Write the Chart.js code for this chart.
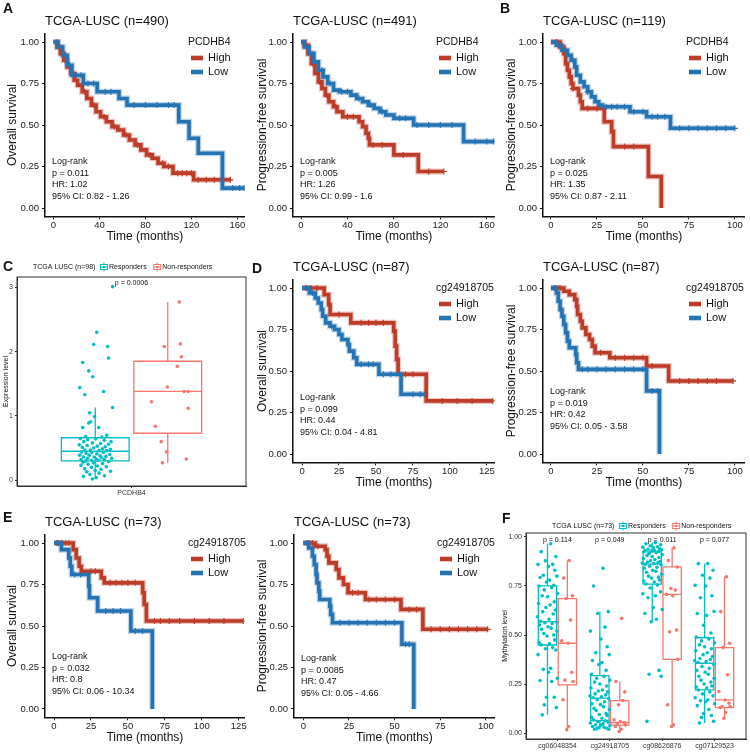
<!DOCTYPE html>
<html>
<head>
<meta charset="utf-8">
<script src="https://cdn.jsdelivr.net/npm/chart.js@4.4.1/dist/chart.umd.min.js"></script>
<style>
  body { margin: 0; background: #fff; }
  #wrap { position: relative; width: 750px; height: 753px; overflow: hidden; background: #fff; }
</style>
</head>
<body>
<div id="wrap"></div>
<script>
// ---------- shared ticks / labels ----------
const survTicks = [0, 0.25, 0.5, 0.75, 1];
const ticks160 = [0, 40, 80, 120, 160];
const ticks100 = [0, 25, 50, 75, 100];
const ticks125 = [0, 25, 50, 75, 100, 125];
const groupNames = ['High', 'Low'];

// ---------- A: PCDHB4 OS (n=490) ----------
const a1HighT = [0, 3, 6, 9, 12, 15, 18, 21, 25, 29, 33, 37, 41, 46, 51, 56, 61, 66, 71, 76, 81, 86, 91, 96, 104, 122];
const a1HighS = [1, 0.97, 0.93, 0.89, 0.85, 0.81, 0.77, 0.74, 0.70, 0.66, 0.62, 0.58, 0.55, 0.52, 0.49, 0.47, 0.44, 0.41, 0.38, 0.35, 0.32, 0.30, 0.27, 0.25, 0.21, 0.17];
const a1HighCens = [5, 10, 17, 27, 35, 44, 53, 63, 73, 84, 95, 100, 108, 112, 116, 120, 126, 133, 140, 147, 154];
const a1LowT = [0, 4, 8, 12, 16, 26, 38, 57, 64, 109, 118, 126, 147];
const a1LowS = [1, 0.97, 0.92, 0.86, 0.80, 0.75, 0.70, 0.66, 0.62, 0.52, 0.42, 0.33, 0.12];
const a1LowCens = [3, 9, 14, 20, 24, 30, 35, 45, 50, 70, 80, 90, 100, 105, 156, 162, 166];

// ---------- A: PCDHB4 PFS (n=491) ----------
const a2HighT = [0, 3, 6, 9, 12, 15, 18, 21, 24, 28, 31, 36, 50, 53, 56, 58, 59, 80, 101];
const a2HighS = [1, 0.98, 0.93, 0.87, 0.81, 0.76, 0.72, 0.68, 0.64, 0.61, 0.58, 0.55, 0.52, 0.49, 0.45, 0.42, 0.38, 0.32, 0.22];
const a2HighCens = [4, 10, 16, 22, 30, 40, 45, 62, 70, 88, 110, 123];
const a2LowT = [0, 3, 7, 11, 15, 19, 23, 28, 33, 43, 48, 53, 58, 63, 68, 73, 80, 97, 140];
const a2LowS = [1, 0.97, 0.93, 0.88, 0.83, 0.79, 0.75, 0.71, 0.70, 0.68, 0.66, 0.64, 0.62, 0.60, 0.58, 0.56, 0.54, 0.50, 0.40];
const a2LowCens = [5, 12, 18, 25, 35, 40, 50, 60, 70, 85, 90, 100, 110, 120, 130, 150, 160, 166];

// ---------- B: PCDHB4 PFS (n=119) ----------
const bHighT = [0, 5, 7, 8, 9, 10, 11, 12, 15, 16, 17, 29, 33, 34, 53, 60];
const bHighS = [1, 0.97, 0.93, 0.87, 0.83, 0.79, 0.75, 0.72, 0.68, 0.64, 0.60, 0.52, 0.46, 0.37, 0.19, 0];
const bHighCens = [3, 12, 20, 25, 40, 45];
const bLowT = [0, 3, 6, 9, 11, 13, 14, 16, 18, 20, 22, 24, 26, 28, 43, 52, 65];
const bLowS = [1, 0.98, 0.95, 0.92, 0.89, 0.85, 0.80, 0.76, 0.73, 0.70, 0.67, 0.64, 0.62, 0.61, 0.58, 0.55, 0.48];
const bLowCens = [4, 8, 12, 20, 30, 33, 36, 40, 45, 50, 55, 58, 62, 70, 75, 80, 85, 90, 95, 100];

// ---------- D: cg24918705 (n=87) ----------
const d1HighT = [0, 15, 18, 19, 33, 62, 63, 64, 65, 84];
const d1HighS = [1, 0.96, 0.90, 0.84, 0.79, 0.74, 0.65, 0.57, 0.48, 0.32];
const d1HighCens = [3, 6, 10, 25, 40, 45, 50, 55, 70, 75, 95, 105, 115, 129];
const d1LowT = [0, 5, 9, 11, 13, 14, 16, 19, 22, 25, 27, 31, 32, 35, 37, 52, 67];
const d1LowS = [1, 0.97, 0.94, 0.91, 0.87, 0.83, 0.79, 0.77, 0.75, 0.72, 0.69, 0.66, 0.62, 0.58, 0.54, 0.48, 0.36];
const d1LowCens = [3, 7, 20, 40, 45, 48, 55, 60, 75, 80, 83];
const d2HighT = [0, 7, 10, 13, 14, 14.5, 16, 17, 19, 21, 22.5, 24, 32, 52, 64];
const d2HighS = [1, 0.98, 0.96, 0.93, 0.89, 0.84, 0.80, 0.76, 0.72, 0.69, 0.65, 0.61, 0.58, 0.53, 0.44];
const d2HighCens = [3, 5, 27, 35, 40, 45, 50, 55, 70, 75, 80, 85, 90, 99];
const d2LowT = [0, 3, 4, 5, 6, 7, 8, 9, 10, 13.5, 14, 15, 52, 59];
const d2LowS = [1, 0.97, 0.92, 0.87, 0.83, 0.78, 0.73, 0.68, 0.64, 0.60, 0.55, 0.51, 0.38, 0];
const d2LowCens = [2, 17, 20, 25, 30, 35, 40, 45, 50, 55, 58];

// ---------- E: cg24918705 (n=73) ----------
const e1HighT = [0, 13, 15, 17, 18.5, 32, 34, 60, 61, 62.5];
const e1HighS = [1, 0.96, 0.91, 0.86, 0.83, 0.79, 0.76, 0.70, 0.63, 0.53];
const e1HighCens = [2, 5, 8, 10, 25, 28, 38, 42, 46, 50, 55, 68, 72, 78, 85, 95, 105, 115, 128];
const e1LowT = [0, 5, 10, 11, 12, 23.5, 24, 29.5, 52, 66.5];
const e1LowS = [1, 0.96, 0.91, 0.86, 0.81, 0.74, 0.67, 0.59, 0.47, 0];
const e1LowCens = [3, 14, 18, 35, 40, 45, 55, 60];
const e2HighT = [0, 6.5, 12, 13, 14, 18, 19.5, 22, 24.5, 34, 53.5, 65.5];
const e2HighS = [1, 0.98, 0.96, 0.92, 0.88, 0.84, 0.79, 0.75, 0.70, 0.66, 0.60, 0.48];
const e2HighCens = [3, 5, 8, 27, 30, 36, 40, 45, 50, 58, 62, 70, 75, 80, 85, 90, 95, 101];
const e2LowT = [0, 3, 5, 6, 7, 7.5, 8.5, 9, 14.5, 15, 16, 54, 60.5];
const e2LowS = [1, 0.97, 0.92, 0.87, 0.81, 0.76, 0.71, 0.66, 0.62, 0.57, 0.52, 0.39, 0];
const e2LowCens = [2, 20, 25, 30, 35, 40, 45, 50, 56, 58];

// ---------- C: PCDHB4 expression, responders vs non-responders (n=98) ----------
const cCategory = ['PCDHB4'];
const cRespX = [0.901, 0.818, 0.802, 0.875, 0.880, 0.744, 0.776, 0.797, 0.729, 0.755, 0.854, 0.901, 0.781, 0.807, 0.786, 0.776, 0.744, 0.828, 0.870, 0.760, 0.845,
  0.732, 0.771, 0.812, 0.858, 0.893, 0.750, 0.795, 0.838, 0.880, 0.726, 0.768, 0.820, 0.862, 0.742, 0.802, 0.848, 0.889, 0.756, 0.785, 0.830, 0.870,
  0.738, 0.792, 0.852, 0.762, 0.818, 0.886, 0.728, 0.778, 0.835, 0.866, 0.748, 0.805, 0.842, 0.896, 0.770, 0.815, 0.735, 0.858, 0.790, 0.826, 0.760,
  0.880, 0.745, 0.800, 0.848, 0.772, 0.735, 0.822, 0.868, 0.790, 0.755, 0.840, 0.810, 0.890, 0.765, 0.830, 0.782, 0.858, 0.748, 0.815, 0.795];
const cRespY = [3.01, 2.30, 2.11, 2.08, 1.90, 1.83, 1.70, 1.61, 1.44, 1.33, 1.38, 1.13, 1.05, 0.99, 0.91, 0.89, 0.82, 0.82, 0.70, 0.68, 0.67,
  0.65, 0.63, 0.64, 0.62, 0.60, 0.60, 0.58, 0.57, 0.56, 0.55, 0.54, 0.53, 0.52, 0.51, 0.50, 0.49, 0.48, 0.47, 0.47, 0.46, 0.46,
  0.44, 0.43, 0.43, 0.42, 0.41, 0.40, 0.39, 0.39, 0.38, 0.37, 0.36, 0.36, 0.35, 0.34, 0.34, 0.33, 0.32, 0.32, 0.31, 0.31, 0.30,
  0.29, 0.28, 0.27, 0.26, 0.25, 0.23, 0.22, 0.21, 0.20, 0.18, 0.17, 0.15, 0.14, 0.13, 0.11, 0.09, 0.07, 0.06, 0.04, 0.02];
const cNonX = [1.250, 1.256, 1.172, 1.261, 1.240, 1.188, 1.276, 1.297, 1.104, 1.297, 1.125, 1.156, 1.183, 1.287, 1.162];
const cNonY = [2.77, 2.12, 2.08, 1.92, 1.77, 1.45, 1.38, 1.38, 1.22, 1.12, 0.84, 0.60, 0.44, 0.33, 0.27];
// [min, q1, median, q3, max]
const cRespBox = [[0.02, 0.30, 0.45, 0.66, 1.13]];
const cNonBox = [[0.27, 0.73, 1.38, 1.85, 2.77]];
const cPvals = ['p = 0.0006'];

// ---------- F: methylation, responders vs non-responders (n=73) ----------
const fProbes = ['cg06048354', 'cg24918705', 'cg08626876', 'cg07129523'];
const fResp06048354 = [0.965, 0.925, 0.90, 0.878, 0.86, 0.86, 0.85, 0.83, 0.805, 0.80, 0.793, 0.78, 0.77, 0.754, 0.75,
  0.742, 0.73, 0.712, 0.70, 0.695, 0.669, 0.661, 0.653, 0.64, 0.627, 0.619, 0.607, 0.593, 0.58, 0.57,
  0.566, 0.563, 0.559, 0.551, 0.542, 0.535, 0.529, 0.52, 0.508, 0.50, 0.495, 0.475, 0.461, 0.455, 0.45,
  0.436, 0.43, 0.424, 0.40, 0.33, 0.325, 0.31, 0.28, 0.268, 0.263, 0.183, 0.183, 0.144, 0.13, 0.093];
const fResp24918705 = [0.84, 0.75, 0.619, 0.61, 0.54, 0.52, 0.48, 0.44, 0.41, 0.40, 0.37, 0.36, 0.35, 0.32, 0.30,
  0.29, 0.28, 0.27, 0.26, 0.25, 0.24, 0.23, 0.22, 0.215, 0.21, 0.20, 0.195, 0.19, 0.185, 0.18,
  0.175, 0.17, 0.16, 0.15, 0.145, 0.135, 0.127, 0.12, 0.115, 0.10, 0.095, 0.09, 0.08, 0.076, 0.068,
  0.063, 0.059, 0.055, 0.051, 0.047, 0.042, 0.04, 0.037, 0.034, 0.03, 0.028, 0.025, 0.022, 0.02, 0.02];
const fResp08626876 = [0.971, 0.965, 0.96, 0.955, 0.95, 0.948, 0.945, 0.94, 0.937, 0.935, 0.932, 0.93, 0.928, 0.926, 0.924,
  0.92, 0.915, 0.91, 0.905, 0.90, 0.895, 0.89, 0.885, 0.88, 0.875, 0.872, 0.87, 0.867, 0.864, 0.861,
  0.858, 0.85, 0.845, 0.84, 0.83, 0.825, 0.82, 0.81, 0.80, 0.795, 0.79, 0.78, 0.775, 0.77, 0.76,
  0.755, 0.74, 0.72, 0.71, 0.70, 0.69, 0.64, 0.63, 0.61, 0.58, 0.568, 0.32, 0.30, 0.29, 0.06];
const fResp07129523 = [0.864, 0.864, 0.83, 0.805, 0.79, 0.754, 0.75, 0.70, 0.69, 0.62, 0.61, 0.60, 0.55, 0.51, 0.49,
  0.48, 0.47, 0.46, 0.45, 0.44, 0.43, 0.42, 0.41, 0.40, 0.39, 0.38, 0.375, 0.37, 0.365, 0.36,
  0.35, 0.34, 0.33, 0.32, 0.31, 0.30, 0.29, 0.28, 0.27, 0.26, 0.25, 0.24, 0.235, 0.23, 0.22,
  0.21, 0.20, 0.19, 0.18, 0.17, 0.165, 0.16, 0.15, 0.14, 0.12, 0.10, 0.09, 0.08, 0.06, 0.051];
const fNon06048354 = [0.88, 0.79, 0.70, 0.686, 0.576, 0.471, 0.458, 0.31, 0.27, 0.263, 0.17, 0.034, 0.017];
const fNon24918705 = [0.585, 0.263, 0.21, 0.144, 0.166, 0.068, 0.059, 0.054, 0.047, 0.041, 0.034, 0.02, 0.008];
const fNon08626876 = [0.944, 0.88, 0.847, 0.737, 0.729, 0.707, 0.70, 0.525, 0.517, 0.376, 0.144, 0.042, 0.034];
const fNon07129523 = [0.797, 0.619, 0.458, 0.436, 0.297, 0.212, 0.169, 0.153, 0.136, 0.136, 0.13, 0.105, 0.076];
const fRespBox = [[0.093, 0.449, 0.568, 0.75, 0.965], [0.02, 0.064, 0.178, 0.293, 0.619], [0.568, 0.759, 0.861, 0.924, 0.971], [0.051, 0.22, 0.356, 0.486, 0.864]];
const fNonBox = [[0.017, 0.246, 0.458, 0.686, 0.88], [0.008, 0.041, 0.054, 0.166, 0.263], [0.034, 0.376, 0.707, 0.847, 0.944], [0.076, 0.13, 0.169, 0.436, 0.797]];
const fPvals = ['p = 0.114', 'p = 0.049', 'p = 0.011', 'p = 0.077'];
// horizontal jitter of the points (fraction of jitter half-width)
const fJitter = [0.3, -0.6, 0.8, -0.2, 0.5, -0.9, 0.1, 0.7, -0.4, 0.9, -0.7, 0.2, -0.1, 0.6, -0.8, 0.4, -0.3, 0.95, -0.5, 0.0,
  0.65, -0.85, 0.25, -0.15, 0.75, -0.45, 0.55, -0.95, 0.15, -0.65, 0.85, -0.25, 0.45, -0.75, 0.05, 0.35, -0.55, 0.9, -0.35, 0.6,
  -0.05, 0.7, -0.8, 0.2, -0.6, 0.5, -0.2, 0.8, -0.9, 0.3, -0.4, 0.1, 0.95, -0.7, 0.4, -0.1, 0.65, -0.3, 0.85, -0.5];

// ---------- drawing ----------
const FONT = "'Liberation Sans', Arial, Helvetica, sans-serif";
const RED = '#BC3C29', BLUE = '#2673B3';
const RED_HALO = 'rgba(188,60,41,0.30)', BLUE_HALO = 'rgba(38,115,179,0.30)';
const TEAL = '#00BFC4', SALMON = '#F8766D';
Chart.defaults.font.family = FONT;
Chart.defaults.animation = false;
Chart.defaults.plugins.legend.display = false;
Chart.defaults.plugins.tooltip.enabled = false;

function addCanvas(l, t, w, h) {
  const c = document.createElement('canvas');
  c.width = w; c.height = h;
  c.style.cssText = `position:absolute;left:${l}px;top:${t}px;width:${w}px;height:${h}px`;
  document.getElementById('wrap').appendChild(c);
  return c;
}

function stepPoints(t, s, end) {
  const pts = [{x: t[0], y: s[0]}];
  for (let i = 1; i < t.length; i++) {
    pts.push({x: t[i], y: s[i - 1]});
    pts.push({x: t[i], y: s[i]});
  }
  pts.push({x: end, y: s[s.length - 1]});
  return pts;
}

function survAt(t, s, x) {
  let v = s[0];
  for (let i = 0; i < t.length; i++) if (t[i] <= x) v = s[i];
  return v;
}

function axis(o) {
  return {
    type: 'linear', min: o.min, max: o.max,
    afterBuildTicks: sc => { sc.ticks = o.ticks.map(v => ({value: v})); },
    afterFit: sc => { if (o.w != null) sc.width = o.w; if (o.h != null) sc.height = o.h; },
    ticks: {font: {size: o.fs}, color: o.tc, padding: o.pad, autoSkip: false, maxRotation: 0, callback: o.fmt},
    grid: {display: true, drawOnChartArea: false, drawTicks: true, tickLength: o.tl, color: o.gc, lineWidth: 1},
    border: {display: true, color: o.bc, width: o.bw},
    title: {display: !!o.title, text: o.title, font: {size: o.ts}, color: '#111', padding: 0}
  };
}

function km(p) {
  const [bl, bt, bw, bh] = p.box;
  const [pl, pt, pr, pb] = p.plot;
  const cv = addCanvas(bl, bt, bw, bh);
  const datasets = [];
  p.curves.slice().reverse().forEach(c => {
    datasets.push({data: stepPoints(c.t, c.s, c.end), borderColor: c.color, borderWidth: 3.6,
      pointRadius: 0, tension: 0, borderCapStyle: 'butt', borderJoinStyle: 'miter'});
  });
  p.curves.forEach(c => {
    datasets.push({data: c.cens.map(x => ({x: x, y: survAt(c.t, c.s, x)})), showLine: false,
      pointStyle: 'cross', pointRadius: 3, pointBorderWidth: 1.2, borderColor: c.color, backgroundColor: c.color});
  });
  p.curves.slice().reverse().forEach(c => {
    datasets.push({data: stepPoints(c.t, c.s, c.end), borderColor: c.halo, borderWidth: 6,
      pointRadius: 0, tension: 0, borderCapStyle: 'butt', borderJoinStyle: 'miter'});
  });
  const deco = {
    id: 'kmDeco',
    afterDraw(chart) {
      const ctx = chart.ctx, ca = chart.chartArea, ys = chart.scales.y;
      ctx.save();
      ctx.fillStyle = '#111';
      ctx.textBaseline = 'middle';
      ctx.textAlign = 'left';
      ctx.font = `13px ${FONT}`;
      ctx.fillText(p.title, ca.left, ca.top - 12);
      if (p.letter) {
        ctx.font = `bold 14px ${FONT}`;
        ctx.fillText(p.letter, p.letterAt[0] - bl, p.letterAt[1] - bt);
      }
      const lx = ca.left + 143, ly = ys.getPixelForValue(1);
      ctx.font = `10.5px ${FONT}`;
      ctx.fillText(p.legendTitle, lx, ly);
      ctx.font = `11px ${FONT}`;
      p.curves.forEach((c, i) => {
        const y = ly + 16 + i * 14;
        ctx.strokeStyle = c.halo; ctx.lineWidth = 6;
        ctx.beginPath(); ctx.moveTo(lx + 3, y); ctx.lineTo(lx + 15, y); ctx.stroke();
        ctx.strokeStyle = c.color; ctx.lineWidth = 4;
        ctx.beginPath(); ctx.moveTo(lx + 3, y); ctx.lineTo(lx + 15, y); ctx.stroke();
        ctx.fillText(c.label, lx + 20, y);
      });
      ctx.font = `9px ${FONT}`;
      const y0 = ys.getPixelForValue(0) - p.statLift;
      p.stats.forEach((s, i) => ctx.fillText(s, ca.left + 7, y0 + i * 11.5));
      ctx.restore();
    }
  };
  new Chart(cv, {
    type: 'line',
    data: {datasets},
    options: {
      responsive: false,
      layout: {padding: {left: p.yLeft - bl, top: pt - bt, right: bl + bw - pr, bottom: 0}},
      scales: {
        x: axis({min: p.xMin, max: p.xMax, ticks: p.xTicks, h: bt + bh - pb, fs: 9.5, tc: '#222', pad: 0, tl: 3,
          gc: '#111', bc: '#111', bw: 1.5, title: 'Time (months)', ts: 12}),
        y: axis({min: -0.05, max: 1.05, ticks: survTicks, w: pl - p.yLeft, fs: 9.5, tc: '#222', pad: 3, tl: 3,
          gc: '#111', bc: '#111', bw: 1.5, title: p.yTitle, ts: 12, fmt: v => v.toFixed(2)})
      }
    },
    plugins: [deco]
  });
}

function curve(t, s, cens, color, halo, label) {
  return {t, s, cens, color, halo, label, end: Math.max(t[t.length - 1], cens.length ? cens[cens.length - 1] : 0)};
}

// row 1
km({box: [0, 0, 250, 244], plot: [45, 33.7, 245, 216.3], yLeft: 5.5, xMin: -7.4, xMax: 166.5, xTicks: ticks160,
  title: 'TCGA-LUSC (n=490)', yTitle: 'Overall survival', legendTitle: 'PCDHB4', letter: 'A', letterAt: [3, 9],
  curves: [curve(a1HighT, a1HighS, a1HighCens, RED, RED_HALO, groupNames[0]), curve(a1LowT, a1LowS, a1LowCens, BLUE, BLUE_HALO, groupNames[1])],
  stats: ['Log-rank', 'p = 0.011', 'HR: 1.02', '95% CI: 0.82 - 1.26'], statLift: 46});
km({box: [250, 0, 250, 244], plot: [293, 33.7, 495, 216.3], yLeft: 255.5, xMin: -6.9, xMax: 166.9, xTicks: ticks160,
  title: 'TCGA-LUSC (n=491)', yTitle: 'Progression-free survival', legendTitle: 'PCDHB4',
  curves: [curve(a2HighT, a2HighS, a2HighCens, RED, RED_HALO, groupNames[0]), curve(a2LowT, a2LowS, a2LowCens, BLUE, BLUE_HALO, groupNames[1])],
  stats: ['Log-rank', 'p = 0.005', 'HR: 1.26', '95% CI: 0.99 - 1.6'], statLift: 46});
km({box: [500, 0, 250, 244], plot: [543, 33.7, 746, 216.3], yLeft: 504, xMin: -4.3, xMax: 105.4, xTicks: ticks100,
  title: 'TCGA-LUSC (n=119)', yTitle: 'Progression-free survival', legendTitle: 'PCDHB4', letter: 'B', letterAt: [500, 9],
  curves: [curve(bHighT, bHighS, bHighCens, RED, RED_HALO, groupNames[0]), curve(bLowT, bLowS, bLowCens, BLUE, BLUE_HALO, groupNames[1])],
  stats: ['Log-rank', 'p = 0.025', 'HR: 1.35', '95% CI: 0.87 - 2.11'], statLift: 46});

// row 2
km({box: [250, 255, 250, 235], plot: [293, 279.7, 495, 462.3], yLeft: 255.5, xMin: -6.1, xMax: 130.4, xTicks: ticks125,
  title: 'TCGA-LUSC (n=87)', yTitle: 'Overall survival', legendTitle: 'cg24918705', letter: 'D', letterAt: [252, 269],
  curves: [curve(d1HighT, d1HighS, d1HighCens, RED, RED_HALO, groupNames[0]), curve(d1LowT, d1LowS, d1LowCens, BLUE, BLUE_HALO, groupNames[1])],
  stats: ['Log-rank', 'p = 0.099', 'HR: 0.44', '95% CI: 0.04 - 4.81'], statLift: 56});
km({box: [500, 255, 250, 235], plot: [543, 279.7, 746, 462.3], yLeft: 504, xMin: -4.3, xMax: 105.4, xTicks: ticks100,
  title: 'TCGA-LUSC (n=87)', yTitle: 'Progression-free survival', legendTitle: 'cg24918705',
  curves: [curve(d2HighT, d2HighS, d2HighCens, RED, RED_HALO, groupNames[0]), curve(d2LowT, d2LowS, d2LowCens, BLUE, BLUE_HALO, groupNames[1])],
  stats: ['Log-rank', 'p = 0.019', 'HR: 0.42', '95% CI: 0.05 - 3.58'], statLift: 62});

// row 3
km({box: [0, 500, 250, 245], plot: [45, 534.7, 245, 717.3], yLeft: 5.5, xMin: -6.1, xMax: 129.1, xTicks: ticks125,
  title: 'TCGA-LUSC (n=73)', yTitle: 'Overall survival', legendTitle: 'cg24918705', letter: 'E', letterAt: [3, 518],
  curves: [curve(e1HighT, e1HighS, e1HighCens, RED, RED_HALO, groupNames[0]), curve(e1LowT, e1LowS, e1LowCens, BLUE, BLUE_HALO, groupNames[1])],
  stats: ['Log-rank', 'p = 0.032', 'HR: 0.8', '95% CI: 0.06 - 10.34'], statLift: 52});
km({box: [250, 500, 250, 245], plot: [294, 534.7, 495, 717.3], yLeft: 255.5, xMin: -5.1, xMax: 104.9, xTicks: ticks100,
  title: 'TCGA-LUSC (n=73)', yTitle: 'Progression-free survival', legendTitle: 'cg24918705',
  curves: [curve(e2HighT, e2HighS, e2HighCens, RED, RED_HALO, groupNames[0]), curve(e2LowT, e2LowS, e2LowCens, BLUE, BLUE_HALO, groupNames[1])],
  stats: ['Log-rank', 'p = 0.0085', 'HR: 0.47', '95% CI: 0.05 - 4.66'], statLift: 50});

// ---------- box + jitter panels ----------
function boxPanel(p) {
  const [bl, bt, bw, bh] = p.box;
  const [pl, pt, pr, pb] = p.plot;
  const cv = addCanvas(bl, bt, bw, bh);
  const datasets = p.groups.map(g => ({data: g.points, backgroundColor: g.color, borderColor: g.color,
    pointRadius: 1.8, borderWidth: 0}));
  const deco = {
    id: 'boxDeco',
    beforeDatasetsDraw(chart) {
      const ctx = chart.ctx, xs = chart.scales.x, ys = chart.scales.y;
      ctx.save();
      ctx.lineWidth = 1.3;
      p.groups.forEach(g => {
        ctx.strokeStyle = g.color;
        g.box.forEach((st, i) => {
          const c = i + 1 + g.shift;
          const xc = xs.getPixelForValue(c);
          const xl = xs.getPixelForValue(c - p.boxW / 2), xr = xs.getPixelForValue(c + p.boxW / 2);
          const [mn, q1, md, q3, mx] = st.map(v => ys.getPixelForValue(v));
          ctx.beginPath();
          ctx.moveTo(xc, mn); ctx.lineTo(xc, q1);
          ctx.moveTo(xc, q3); ctx.lineTo(xc, mx);
          ctx.rect(xl, q3, xr - xl, q1 - q3);
          ctx.moveTo(xl, md); ctx.lineTo(xr, md);
          ctx.stroke();
        });
      });
      ctx.restore();
    },
    afterDraw(chart) {
      const ctx = chart.ctx, ca = chart.chartArea, xs = chart.scales.x, ys = chart.scales.y;
      ctx.save();
      ctx.strokeStyle = '#333'; ctx.lineWidth = 1;
      ctx.strokeRect(ca.left, ca.top, ca.right - ca.left, ca.bottom - ca.top);
      ctx.fillStyle = '#111';
      ctx.textBaseline = 'middle';
      ctx.font = `7px ${FONT}`;
      ctx.textAlign = 'center';
      p.pvals.forEach((t, i) => ctx.fillText(t, xs.getPixelForValue(i + 1), ys.getPixelForValue(p.pvalY)));
      // legend, laid out left to right
      ctx.textAlign = 'left';
      const ly = p.legendY - bt;
      let x = p.legendX - bl;
      ctx.fillText(p.legendTitle, x, ly);
      x += ctx.measureText(p.legendTitle).width + 5;
      p.groups.forEach(g => {
        ctx.strokeStyle = g.color; ctx.fillStyle = '#fff'; ctx.lineWidth = 1;
        ctx.beginPath(); ctx.moveTo(x + 3.5, ly - 4.5); ctx.lineTo(x + 3.5, ly + 4.5); ctx.stroke();
        ctx.fillRect(x, ly - 2.5, 7, 5); ctx.strokeRect(x, ly - 2.5, 7, 5);
        ctx.beginPath(); ctx.moveTo(x, ly); ctx.lineTo(x + 7, ly); ctx.stroke();
        ctx.fillStyle = g.color;
        ctx.beginPath(); ctx.arc(x + 3.5, ly, 1.3, 0, Math.PI * 2); ctx.fill();
        ctx.fillStyle = '#111';
        ctx.fillText(g.label, x + 8.5, ly);
        x += 8.5 + ctx.measureText(g.label).width + 7;
      });
      ctx.font = `bold 14px ${FONT}`;
      ctx.fillText(p.letter, p.letterAt[0] - bl, p.letterAt[1] - bt);
      ctx.restore();
    }
  };
  new Chart(cv, {
    type: 'scatter',
    data: {datasets},
    options: {
      responsive: false,
      layout: {padding: {left: p.yLeft - bl, top: pt - bt, right: bl + bw - pr, bottom: 0}},
      scales: {
        x: axis({min: 0.4, max: p.cats.length + 0.6, ticks: p.cats.map((c, i) => i + 1), h: bt + bh - pb, fs: 7, tc: '#333', pad: 1,
          tl: 2, gc: '#333', bc: '#333', bw: 1, fmt: (v, i) => p.cats[i]}),
        y: axis({min: p.yMin, max: p.yMax, ticks: p.yTicks, w: pl - p.yLeft, fs: 7, tc: '#333', pad: 2, tl: 2,
          gc: '#333', bc: '#333', bw: 1, title: p.yTitle, ts: 7, fmt: p.yFmt})
      }
    },
    plugins: [deco]
  });
}

const boxShift = 0.19;
boxPanel({
  box: [0, 255, 250, 245], plot: [17, 277, 247, 486], yLeft: 1.8,
  cats: cCategory, yMin: -0.09, yMax: 3.16, yTicks: [0, 1, 2, 3], yFmt: v => String(v), yTitle: 'Expression level',
  boxW: 0.355, pvals: cPvals, pvalY: 3.07,
  legendTitle: 'TCGA LUSC (n=98)', legendY: 267, legendX: 33,
  letter: 'C', letterAt: [3, 267],
  groups: [
    {label: 'Responders', color: TEAL, shift: -boxShift, box: cRespBox, points: cRespX.map((x, i) => ({x: x, y: cRespY[i]}))},
    {label: 'Non-responders', color: SALMON, shift: boxShift, box: cNonBox, points: cNonX.map((x, i) => ({x: x, y: cNonY[i]}))}
  ]
});

function jitterPoints(lists, shift, half) {
  const pts = [];
  lists.forEach((vals, c) => vals.forEach((v, k) => pts.push({x: c + 1 + shift + fJitter[k % fJitter.length] * half, y: v})));
  return pts;
}

boxPanel({
  box: [500, 480, 250, 273], plot: [526, 533, 748, 739], yLeft: 500.8,
  cats: fProbes, yMin: -0.03, yMax: 1.02, yTicks: survTicks, yFmt: v => v.toFixed(2), yTitle: 'Mythylation level',
  boxW: 0.35, pvals: fPvals, pvalY: 0.985,
  legendTitle: 'TCGA LUSC (n=73)', legendY: 526, legendX: 552,
  letter: 'F', letterAt: [502, 519],
  groups: [
    {label: 'Responders', color: TEAL, shift: -boxShift, box: fRespBox,
      points: jitterPoints([fResp06048354, fResp24918705, fResp08626876, fResp07129523], -boxShift, 0.2)},
    {label: 'Non-responders', color: SALMON, shift: boxShift, box: fNonBox,
      points: jitterPoints([fNon06048354, fNon24918705, fNon08626876, fNon07129523], boxShift, 0.12)}
  ]
});
</script>
</body>
</html>
